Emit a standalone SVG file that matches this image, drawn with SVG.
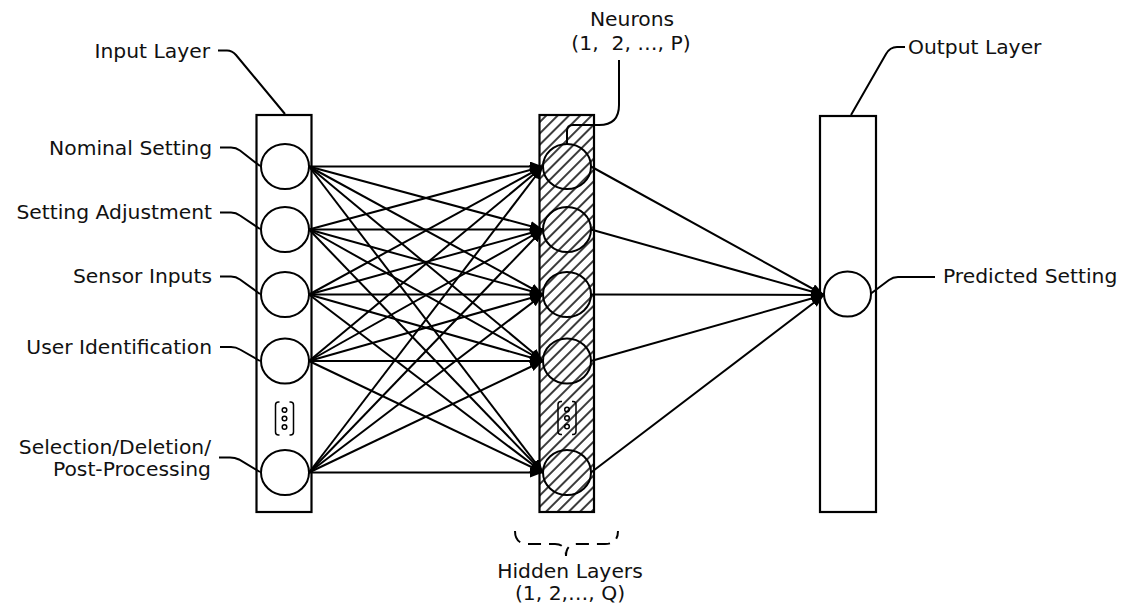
<svg xmlns="http://www.w3.org/2000/svg" width="1133" height="607" viewBox="0 0 1133 607">
  <style>
    .lbl { font-family: "DejaVu Sans", Verdana, sans-serif; font-size: 20.3px; fill: #111; }
    .end { text-anchor: end; }
    .mid { text-anchor: middle; }
    .pre { white-space: pre; }
    .layer { fill: #fff; stroke: #000; stroke-width: 2.2; }
    .hatched { fill: url(#hatch); stroke: #000; stroke-width: 2.2; }
    .neuron { fill: none; stroke: #000; stroke-width: 2; }
    .edge { fill: none; stroke: #000; stroke-width: 2; marker-end: url(#arrow); }
    .leader { fill: none; stroke: #000; stroke-width: 2; }
    .dots { fill: none; stroke: #000; stroke-width: 1.5; }
  </style>
  <defs>
    <pattern id="hatch" patternUnits="userSpaceOnUse" width="8" height="8" patternTransform="rotate(45)">
      <rect x="0" y="0" width="8" height="8" fill="#fff"/>
      <line x1="4" y1="-1" x2="4" y2="9" stroke="#3c3c3c" stroke-width="2"/>
    </pattern>
    <marker id="arrow" markerUnits="userSpaceOnUse" markerWidth="14" markerHeight="11" refX="13" refY="5" orient="auto">
      <path d="M0,0 L13,5 L0,10 z" fill="#000"/>
    </marker>
    <!-- vertical ellipsis in small brackets, centred on 0,0 -->
    <g id="vdots">
      <path class="dots" d="M-5,-16.5 L-6,-16.5 Q-9,-16.5 -9,-13.5 L-9,13.5 Q-9,16.5 -6,16.5 L-5,16.5"/>
      <path class="dots" d="M5,-16.5 L6,-16.5 Q9,-16.5 9,-13.5 L9,13.5 Q9,16.5 6,16.5 L5,16.5"/>
      <circle class="dots" cx="0" cy="-8.5" r="2.3"/>
      <circle class="dots" cx="0" cy="0" r="2.3"/>
      <circle class="dots" cx="0" cy="8.5" r="2.3"/>
    </g>
  </defs>

  <rect width="1133" height="607" fill="#fff"/>

  <!-- layer columns -->
  <g id="input-layer">
    <rect class="layer" x="256.5" y="115" width="55" height="397"/>
    <use href="#vdots" x="284.5" y="418.5"/>
  </g>
  <g id="hidden-layers">
    <rect class="hatched" x="539.5" y="115" width="54.5" height="397"/>
    <use href="#vdots" x="567" y="418"/>
  </g>
  <g id="output-layer">
    <rect class="layer" x="820" y="116" width="56" height="396"/>
  </g>

  <!-- weighted connections -->
  <g id="connectors">
    <!-- input -> hidden -->
    <path class="edge" d="M309,166.5 L543,166.5"/>
    <path class="edge" d="M309,166.5 L543,229.5"/>
    <path class="edge" d="M309,166.5 L543,294.5"/>
    <path class="edge" d="M309,166.5 L543,361"/>
    <path class="edge" d="M309,166.5 L543,472.5"/>
    <path class="edge" d="M309,229.5 L543,166.5"/>
    <path class="edge" d="M309,229.5 L543,229.5"/>
    <path class="edge" d="M309,229.5 L543,294.5"/>
    <path class="edge" d="M309,229.5 L543,361"/>
    <path class="edge" d="M309,229.5 L543,472.5"/>
    <path class="edge" d="M309,294.5 L543,166.5"/>
    <path class="edge" d="M309,294.5 L543,229.5"/>
    <path class="edge" d="M309,294.5 L543,294.5"/>
    <path class="edge" d="M309,294.5 L543,361"/>
    <path class="edge" d="M309,294.5 L543,472.5"/>
    <path class="edge" d="M309,361 L543,166.5"/>
    <path class="edge" d="M309,361 L543,229.5"/>
    <path class="edge" d="M309,361 L543,294.5"/>
    <path class="edge" d="M309,361 L543,361"/>
    <path class="edge" d="M309,361 L543,472.5"/>
    <path class="edge" d="M309,472.5 L543,166.5"/>
    <path class="edge" d="M309,472.5 L543,229.5"/>
    <path class="edge" d="M309,472.5 L543,294.5"/>
    <path class="edge" d="M309,472.5 L543,361"/>
    <path class="edge" d="M309,472.5 L543,472.5"/>
    <!-- hidden -> output -->
    <path class="edge" d="M591,166.5 L824,295"/>
    <path class="edge" d="M591,229.5 L824,295"/>
    <path class="edge" d="M591,294.5 L824,295"/>
    <path class="edge" d="M591,361 L824,295"/>
    <path class="edge" d="M591,472.5 L824,295"/>
  </g>

  <!-- input neurons -->
  <g id="in-nominal-setting">
    <ellipse class="neuron" cx="285" cy="166.5" rx="24" ry="22.5"/>
    <text class="lbl end" x="212" y="154.5">Nominal Setting</text>
    <path class="leader" d="M220,147.5 L231,147.5 Q236,147.5 240,150.5 L260,166"/>
  </g>
  <g id="in-setting-adjustment">
    <ellipse class="neuron" cx="285" cy="229.5" rx="24" ry="22.5"/>
    <text class="lbl end" x="212" y="219">Setting Adjustment</text>
    <path class="leader" d="M220,212.5 L231,212.5 Q236,212.5 240,215.5 L260,229"/>
  </g>
  <g id="in-sensor-inputs">
    <ellipse class="neuron" cx="285" cy="294.5" rx="24" ry="22.5"/>
    <text class="lbl end" x="212" y="283">Sensor Inputs</text>
    <path class="leader" d="M220,276.5 L231,276.5 Q236,276.5 240,279.5 L260,294"/>
  </g>
  <g id="in-user-identification">
    <ellipse class="neuron" cx="285" cy="361" rx="24" ry="22.5"/>
    <text class="lbl end" x="212" y="353.5">User Identification</text>
    <path class="leader" d="M220,347 L231,347 Q236,347 240,349.5 L260,361"/>
  </g>
  <g id="in-selection-deletion">
    <ellipse class="neuron" cx="285" cy="472.5" rx="24" ry="22.5"/>
    <text class="lbl end" x="211" y="453.5">Selection/Deletion/</text>
    <text class="lbl end" x="211" y="475.5">Post-Processing</text>
    <path class="leader" d="M219,457.5 L230,457.5 Q235,457.5 239,459.5 L260,472"/>
  </g>

  <!-- hidden neurons -->
  <g id="hidden-1">
    <ellipse class="neuron" cx="567" cy="166.5" rx="24" ry="22.5"/>
  </g>
  <g id="hidden-2">
    <ellipse class="neuron" cx="567" cy="229.5" rx="24" ry="22.5"/>
  </g>
  <g id="hidden-3">
    <ellipse class="neuron" cx="567" cy="294.5" rx="24" ry="22.5"/>
  </g>
  <g id="hidden-4">
    <ellipse class="neuron" cx="567" cy="361" rx="24" ry="22.5"/>
  </g>
  <g id="hidden-p">
    <ellipse class="neuron" cx="567" cy="472.5" rx="24" ry="22.5"/>
  </g>

  <!-- output neuron -->
  <g id="out-predicted-setting">
    <ellipse class="neuron" cx="847.5" cy="294" rx="23.5" ry="22.5"/>
    <path class="leader" d="M871,293.5 L889,280 Q893,277 898,277 L935,277"/>
    <text class="lbl" x="943" y="283">Predicted Setting</text>
  </g>

  <!-- layer captions -->
  <g id="cap-input-layer">
    <text class="lbl end" x="210" y="57.5">Input Layer</text>
    <path class="leader" d="M218,50.5 L227,50.5 Q232,50.5 236,55 L285,114"/>
  </g>
  <g id="cap-output-layer">
    <path class="leader" d="M851,115 L886,54 Q890,47 897,47 L905,47"/>
    <text class="lbl" x="908" y="53.5">Output Layer</text>
  </g>
  <g id="cap-neurons">
    <text class="lbl mid" x="632" y="26">Neurons</text>
    <text class="lbl mid pre" x="631" y="50">(1,  2, …, P)</text>
    <path class="leader" d="M619,60 L619,105 Q619,125 599,125 L573,125 Q567,125 567,131 L567,144"/>
  </g>
  <g id="cap-hidden-layers">
    <path class="leader" stroke-dasharray="13 8" d="M515,531 Q515,544 528,544 L555,544 Q566,544 566,556 Q566,544 577,544 L605,544 Q618,544 618,531"/>
    <text class="lbl mid" x="570" y="577.5">Hidden Layers</text>
    <text class="lbl mid" x="570" y="600">(1, 2,…, Q)</text>
  </g>
</svg>
